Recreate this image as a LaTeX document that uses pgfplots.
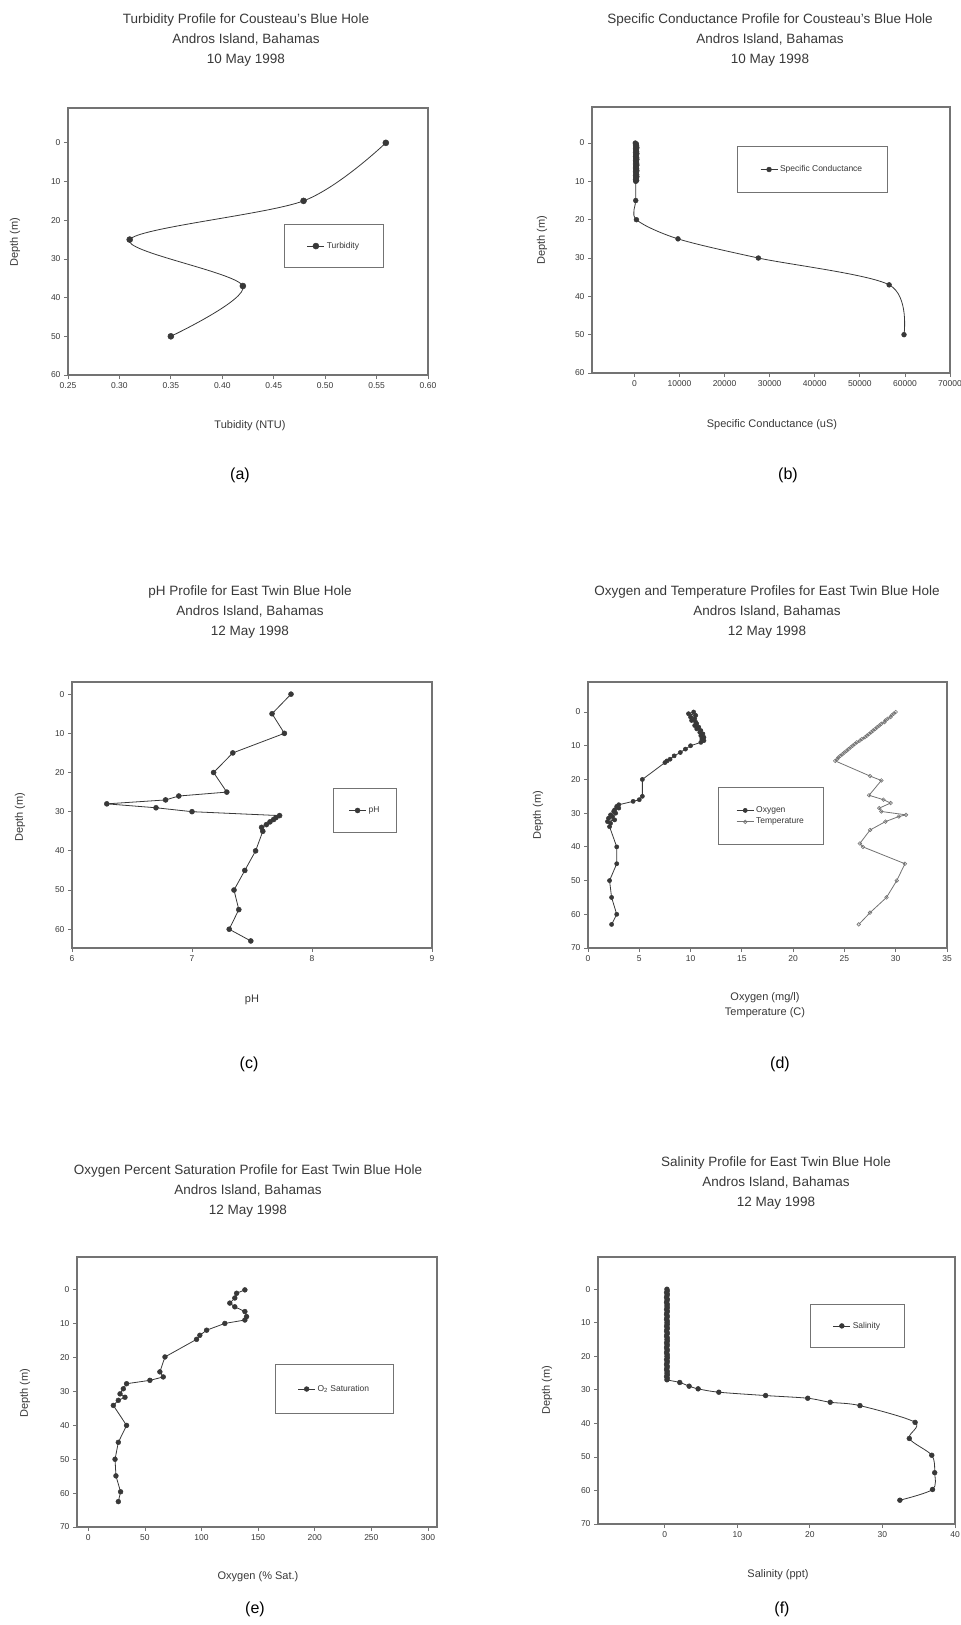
\documentclass[border=0pt]{standalone}
\usepackage{fontspec}
\setmainfont{Liberation Sans}
\usepackage{pgfplots}
\pgfplotsset{compat=1.18}
\definecolor{frame}{gray}{0.45}
\definecolor{ink}{gray}{0.22}
\pgfplotsset{
  prof/.style={
    scale only axis, anchor=south west, y dir=reverse,
    axis line style={frame, line width=1.1pt},
    tick align=outside, xtick pos=bottom, ytick pos=left,
    tick style={frame, line width=0.8pt}, major tick length=4pt,
    ticklabel style={font=\fontsize{8.5}{10}\selectfont, text=ink},
    /pgf/number format/assume math mode=true,
    /pgf/number format/1000 sep={},
    scaled ticks=false,
    legend cell align=left,
    legend style={draw=frame, line width=1pt, font=\fontsize{8.5}{10}\selectfont, text=ink, anchor=center},
  },
  dat/.style={ink, line width=0.8pt, mark=*, mark size=2.6pt, mark options={fill=ink, draw=ink, line width=0.5pt}},
}
\newcommand{\ttl}{\fontsize{13.5}{20}\selectfont}
\newcommand{\lbl}{\fontsize{11}{15}\selectfont}
\newcommand{\capf}{\fontsize{16}{18}\selectfont}
\begin{document}
\begin{tikzpicture}
\path[use as bounding box] (0,0) rectangle (961pt,-1625pt);

% ---------------- (a) ----------------
\begin{axis}[prof, at={(68pt,-375pt)}, width=360pt, height=267pt,
  xmin=0.25, xmax=0.60, ymin=-9, ymax=60,
  xtick={0.25,0.30,0.35,0.40,0.45,0.50,0.55,0.60}, ytick={0,10,20,30,40,50,60},
  x tick label style={/pgf/number format/.cd, fixed, fixed zerofill, precision=2},
  legend style={at={(0.739,0.483)}, inner xsep=22pt, inner ysep=16pt}]
\addplot[dat, smooth, mark size=3pt] coordinates {(0.559,0) (0.479,15) (0.31,25) (0.42,37) (0.35,50)};
\addlegendentry{Turbidity}
\end{axis}
\node[ink, font=\ttl, align=center] at (246pt,-40pt) {Turbidity Profile for Cousteau's Blue Hole\\Andros Island, Bahamas\\10 May 1998};
\node[ink, font=\lbl] at (250pt,-426pt) {Tubidity (NTU)};
\node[ink, font=\lbl, rotate=90] at (15pt,-242pt) {Depth (m)};
\node[black, font=\capf] at (240pt,-475pt) {(a)};

% ---------------- (b) ----------------
\begin{axis}[prof, at={(592pt,-373pt)}, width=358pt, height=266pt,
  xmin=-9400, xmax=70000, ymin=-9.4, ymax=60,
  xtick={0,10000,20000,30000,40000,50000,60000,70000}, ytick={0,10,20,30,40,50,60},
  legend style={at={(0.615,0.765)}, inner xsep=23pt, inner ysep=17pt}]
\addplot[dat, smooth, mark size=2.4pt] coordinates {
 (200,0) (450,0.25) (250,0.5) (500,0.75) (300,1) (550,1.25) (250,1.5) (450,1.75) (300,2) (500,2.25)
 (250,2.5) (550,2.75) (300,3) (450,3.25) (250,3.5) (500,3.75) (300,4) (550,4.25) (250,4.5) (450,4.75)
 (300,5) (500,5.25) (250,5.5) (550,5.75) (300,6) (450,6.25) (250,6.5) (500,6.75) (300,7) (550,7.25)
 (250,7.5) (450,7.75) (300,8) (500,8.25) (250,8.5) (550,8.75) (300,9) (450,9.25) (250,9.5) (500,9.75) (300,10)
 (300,15) (450,20) (9670,25) (27500,30) (56500,37) (59800,50)};
\addlegendentry{Specific Conductance}
\end{axis}
\node[ink, font=\ttl, align=center] at (770pt,-40pt) {Specific Conductance Profile for Cousteau's Blue Hole\\Andros Island, Bahamas\\10 May 1998};
\node[ink, font=\lbl] at (772pt,-425pt) {Specific Conductance (uS)};
\node[ink, font=\lbl, rotate=90] at (542pt,-240pt) {Depth (m)};
\node[black, font=\capf] at (788pt,-475pt) {(b)};

% ---------------- (c) ----------------
\begin{axis}[prof, at={(72pt,-948pt)}, width=360pt, height=266pt,
  xmin=6, xmax=9, ymin=-3.1, ymax=64.8,
  xtick={6,7,8,9}, ytick={0,10,20,30,40,50,60},
  legend style={at={(0.814,0.517)}, inner xsep=15pt, inner ysep=16pt}]
\addplot[dat, mark size=2.5pt] coordinates {
 (7.825,0) (7.667,5) (7.77,10) (7.34,15) (7.18,20) (7.29,25) (6.89,26) (6.78,27) (6.29,28)
 (6.70,29) (7.00,30) (7.73,31) (7.70,31.5) (7.68,32) (7.65,32.6) (7.62,33.3) (7.58,34) (7.59,35)
 (7.53,40) (7.44,45) (7.35,50) (7.39,55) (7.31,60) (7.49,63)};
\addlegendentry{pH}
\end{axis}
\node[ink, font=\ttl, align=center] at (250pt,-612pt) {pH Profile for East Twin Blue Hole\\Andros Island, Bahamas\\12 May 1998};
\node[ink, font=\lbl] at (252pt,-1000pt) {pH};
\node[ink, font=\lbl, rotate=90] at (20pt,-817pt) {Depth (m)};
\node[black, font=\capf] at (249pt,-1064pt) {(c)};

% ---------------- (d) ----------------
\begin{axis}[prof, at={(588pt,-948pt)}, width=359pt, height=266pt,
  xmin=0, xmax=35, ymin=-8.9, ymax=70,
  xtick={0,5,10,15,20,25,30,35}, ytick={0,10,20,30,40,50,60,70},
  legend style={at={(0.51,0.496)}, inner xsep=18pt, inner ysep=17pt}]
\addplot[dat, mark size=2.1pt] coordinates {
 (10.3,0) (9.8,0.5) (10.5,1) (10.0,1.5) (10.4,2) (10.1,2.5) (10.5,3) (10.6,3.5) (10.4,4) (10.8,4.5)
 (10.6,5) (11.0,5.5) (10.9,6) (11.2,6.5) (11.0,7) (11.3,7.5) (11.1,8) (11.3,8.5) (11.0,9) (10.0,10)
 (9.5,11) (9.0,12) (8.4,13) (8.0,14) (7.7,14.5) (7.5,15) (5.3,20) (5.3,25) (5.0,26) (4.4,26.5)
 (3.0,27.5) (2.8,28) (3.0,28.5) (2.6,29) (2.5,29.5) (2.7,30) (2.2,30.5) (2.4,31) (2.0,31.5) (2.6,32)
 (1.9,32.5) (2.2,33) (2.1,34) (2.8,40) (2.8,45) (2.1,50) (2.3,55) (2.8,60) (2.3,63)};
\addlegendentry{Oxygen}
\addplot[black!55, line width=0.8pt, mark=o, mark size=1.8pt, mark options={draw=black!55, fill=white, line width=0.6pt}] coordinates {
 (30.0,0) (29.8,0.5) (29.6,1) (29.5,1.5) (29.2,2) (29.0,2.5) (28.9,3) (28.6,3.5) (28.4,4) (28.2,4.5)
 (28.0,5) (27.8,5.5) (27.6,6) (27.4,6.5) (27.2,7) (27.0,7.5) (26.7,8) (26.5,8.5) (26.2,9) (26.0,9.5)
 (25.8,10) (25.6,10.5) (25.4,11) (25.2,11.5) (25.0,12) (24.8,12.5) (24.6,13) (24.4,13.5) (24.3,14) (24.1,14.5)
 (27.5,19) (28.6,20.3) (27.4,24.7) (28.8,26) (29.5,27) (28.4,28.5) (28.6,29.5) (31.0,30.5) (30.3,31)
 (29.0,32.5) (27.5,35) (26.5,39) (26.8,40) (30.9,45) (30.1,50) (29.1,55) (27.5,59.5) (26.4,63)};
\addlegendentry{Temperature}
\end{axis}
\node[ink, font=\ttl, align=center] at (767pt,-612pt) {Oxygen and Temperature Profiles for East Twin Blue Hole\\Andros Island, Bahamas\\12 May 1998};
\node[ink, font=\lbl, align=center] at (765pt,-1005pt) {Oxygen (mg/l)\\Temperature (C)};
\node[ink, font=\lbl, rotate=90] at (538pt,-815pt) {Depth (m)};
\node[black, font=\capf] at (780pt,-1064pt) {(d)};

% ---------------- (e) ----------------
\begin{axis}[prof, at={(77pt,-1527pt)}, width=360pt, height=270pt,
  xmin=-10, xmax=308, ymin=-9.7, ymax=70,
  xtick={0,50,100,150,200,250,300}, ytick={0,10,20,30,40,50,60,70},
  legend style={at={(0.715,0.511)}, inner xsep=22pt, inner ysep=19pt}]
\addplot[dat, mark size=2.4pt] coordinates {
 (138.3,0) (131,1) (129.4,2.4) (125,3.9) (129.4,5) (138.3,6.4) (139.8,7.9) (138.3,8.9) (120.6,9.9)
 (104.5,11.9) (98.5,13.4) (95.6,14.6) (67.7,19.8) (63.2,24.2) (66.2,25.7) (54.4,26.7) (33.8,27.7)
 (30.9,29.2) (28,30.7) (32.4,31.7) (26.5,32.6) (22.1,34.1) (33.8,40) (26.5,45) (23.6,50) (24.4,54.9)
 (28.5,59.6) (26.5,62.5)};
\addlegendentry{O\textsubscript{2} Saturation}
\end{axis}
\node[ink, font=\ttl, align=center] at (248pt,-1191pt) {Oxygen Percent Saturation Profile for East Twin Blue Hole\\Andros Island, Bahamas\\12 May 1998};
\node[ink, font=\lbl] at (258pt,-1577pt) {Oxygen (\% Sat.)};
\node[ink, font=\lbl, rotate=90] at (25pt,-1393pt) {Depth (m)};
\node[black, font=\capf] at (255pt,-1609pt) {(e)};

% ---------------- (f) ----------------
\begin{axis}[prof, at={(598pt,-1524pt)}, width=357pt, height=267pt,
  xmin=-9.2, xmax=40, ymin=-9.6, ymax=70,
  xtick={0,10,20,30,40}, ytick={0,10,20,30,40,50,60,70},
  legend style={at={(0.727,0.742)}, inner xsep=22pt, inner ysep=16pt}]
\addplot[dat, smooth, mark size=2.4pt] coordinates {
 (0.3,0) (0.35,0.5) (0.25,1) (0.35,1.5) (0.3,2) (0.25,2.5) (0.35,3) (0.3,3.5) (0.25,4) (0.35,4.5)
 (0.3,5) (0.35,5.5) (0.25,6) (0.35,6.5) (0.3,7) (0.25,7.5) (0.35,8) (0.3,8.5) (0.25,9) (0.35,9.5)
 (0.3,10) (0.35,10.5) (0.25,11) (0.35,11.5) (0.3,12) (0.25,12.5) (0.35,13) (0.3,13.5) (0.25,14) (0.35,14.5)
 (0.3,15) (0.35,15.5) (0.25,16) (0.35,16.5) (0.3,17) (0.25,17.5) (0.35,18) (0.3,18.5) (0.25,19) (0.35,19.5)
 (0.3,20) (0.35,20.5) (0.25,21) (0.35,21.5) (0.3,22) (0.25,22.5) (0.35,23) (0.3,23.5) (0.25,24) (0.35,24.5)
 (0.3,25) (0.35,25.5) (0.25,26) (0.35,26.5) (0.3,27)
 (2.07,27.8) (3.36,28.9) (4.6,29.7) (7.45,30.7) (13.9,31.7) (19.7,32.5) (22.8,33.7) (26.9,34.7)
 (34.5,39.7) (33.7,44.5) (36.8,49.5) (37.2,54.7) (36.9,59.7) (32.4,62.9)};
\addlegendentry{Salinity}
\end{axis}
\node[ink, font=\ttl, align=center] at (776pt,-1183pt) {Salinity Profile for East Twin Blue Hole\\Andros Island, Bahamas\\12 May 1998};
\node[ink, font=\lbl] at (778pt,-1575pt) {Salinity (ppt)};
\node[ink, font=\lbl, rotate=90] at (547pt,-1390pt) {Depth (m)};
\node[black, font=\capf] at (782pt,-1609pt) {(f)};
\end{tikzpicture}
\end{document}
